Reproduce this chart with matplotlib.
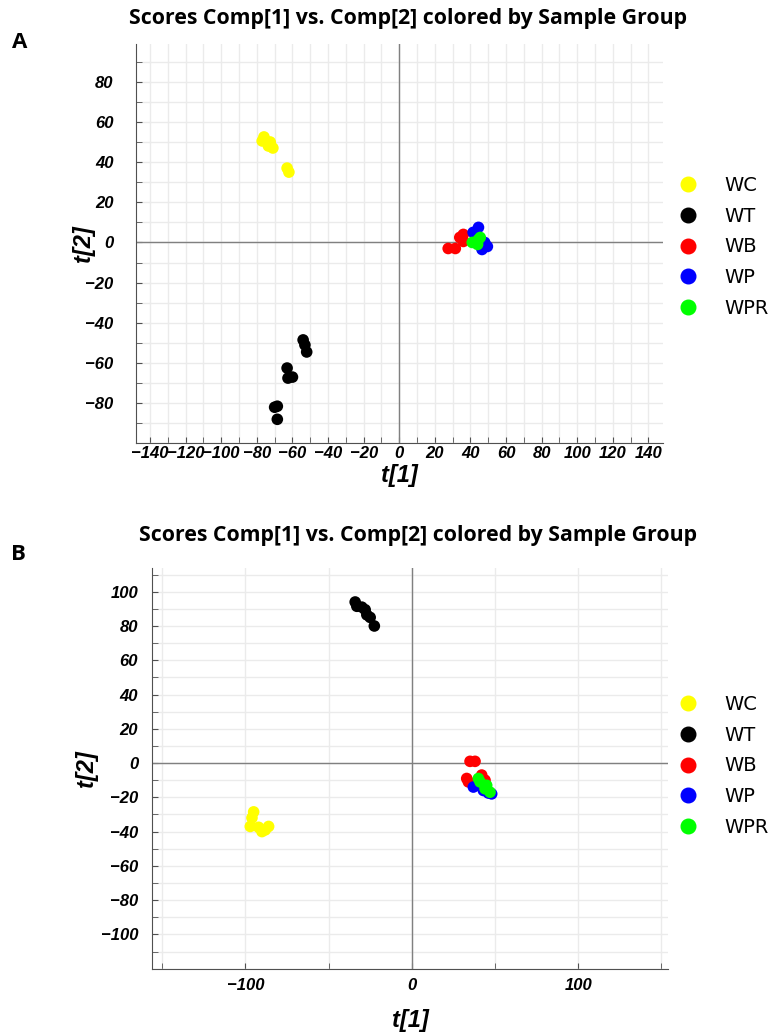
import matplotlib
matplotlib.use("Agg")
from matplotlib import pyplot as plt
from matplotlib.lines import Line2D
from matplotlib.font_manager import FontProperties
from matplotlib.ticker import MultipleLocator, FixedLocator

# ----- data, panel A
a_wc_x = [-76, -77, -72.5, -71, -73.5, -63, -62]
a_wc_y = [52.5, 50.5, 50, 47, 48, 37, 35]
a_wt_x = [-54, -53, -52, -63, -62.5, -60, -70, -68.5, -68.5]
a_wt_y = [-48.5, -51, -54.5, -62.5, -67.5, -67, -82, -81.5, -88]
a_wb_x = [27.5, 31.5, 36, 36, 34]
a_wb_y = [-3, -3, 4, 0.5, 2.5]
a_wp_x = [44.5, 41.5, 46.5, 49.5, 48]
a_wp_y = [7.5, 5, -3.5, -2, 0]
a_wpr_x = [41, 44.5, 45.5, 44, 42.5]
a_wpr_y = [0, 1.5, 2.5, -1, 0]

# ----- data, panel B
b_wc_x = [-95, -96, -97, -92, -90, -88, -86]
b_wc_y = [-28.5, -32, -37, -37.5, -40, -39, -37]
b_wt_x = [-34, -33, -30, -28, -27, -25, -22.5]
b_wt_y = [94, 91.5, 91, 89.5, 86.5, 85, 80]
b_wb_x = [35, 38, 33, 42, 44, 34]
b_wb_y = [1, 1, -9, -7, -10, -11]
b_wp_x = [37, 46, 40, 43, 48]
b_wp_y = [-14, -17.5, -13, -16, -18]
b_wpr_x = [41, 44, 47, 40, 45]
b_wpr_y = [-11, -15, -17, -9, -13]

groups = ["WC", "WT", "WB", "WP", "WPR"]
colors = ["#ffff00", "#000000", "#ff0000", "#0000ff", "#00ff00"]

title = "Scores Comp[1] vs. Comp[2] colored by Sample Group"
tickfont = FontProperties(family="Liberation Sans", weight="bold",
                          style="italic", size=12)
labfont = dict(fontsize=17, fontweight="bold", style="italic",
               family="Liberation Sans")

fig = plt.figure(figsize=(7.76, 10.36), dpi=100)


def draw_panel(ax, data, xlim, ylim):
    for (xs, ys), c in zip(data, colors):
        ax.scatter(xs, ys, s=70, color=c, edgecolors="none", zorder=3)
    ax.set_xlim(*xlim)
    ax.set_ylim(*ylim)
    ax.axhline(0, color="#808080", lw=1, zorder=2)
    ax.axvline(0, color="#808080", lw=1, zorder=2)
    for s in ["top", "right"]:
        ax.spines[s].set_visible(False)
    for s in ["left", "bottom"]:
        ax.spines[s].set_color("#505050")
    ax.grid(True, which="both", color="#ebebeb", lw=1, zorder=0)
    ax.set_axisbelow(True)
    ax.tick_params(which="both", direction="in", length=4, color="#505050")
    for lab in ax.get_xticklabels() + ax.get_yticklabels():
        lab.set_fontproperties(tickfont)
    ax.set_xlabel("t[1]", **labfont)
    ax.set_ylabel("t[2]", **labfont)


# ----- Panel A
axA = fig.add_axes([0.175, 0.572, 0.679, 0.386])
axA.xaxis.set_major_locator(MultipleLocator(20))
axA.xaxis.set_minor_locator(MultipleLocator(10))
axA.yaxis.set_major_locator(FixedLocator(list(range(-80, 81, 20))))
axA.yaxis.set_minor_locator(MultipleLocator(10))
draw_panel(axA, [(a_wc_x, a_wc_y), (a_wt_x, a_wt_y), (a_wb_x, a_wb_y),
                 (a_wp_x, a_wp_y), (a_wpr_x, a_wpr_y)],
           (-148, 148), (-100, 99))
axA.tick_params(axis="y", pad=16)
axA.tick_params(axis="x", pad=2)
axA.yaxis.set_label_coords(-0.078, 0.5)
axA.xaxis.set_label_coords(0.5, -0.052)

# ----- Panel B
axB = fig.add_axes([0.196, 0.065, 0.665, 0.387])
axB.xaxis.set_major_locator(FixedLocator([-100, 0, 100]))
axB.xaxis.set_minor_locator(FixedLocator([-150, -50, 50, 150]))
axB.yaxis.set_major_locator(FixedLocator(list(range(-100, 101, 20))))
axB.yaxis.set_minor_locator(MultipleLocator(10))
draw_panel(axB, [(b_wc_x, b_wc_y), (b_wt_x, b_wt_y), (b_wb_x, b_wb_y),
                 (b_wp_x, b_wp_y), (b_wpr_x, b_wpr_y)],
           (-156, 154), (-120, 114))
axB.tick_params(axis="y", pad=10)
axB.tick_params(axis="x", pad=7)
axB.yaxis.set_label_coords(-0.105, 0.5)
axB.xaxis.set_label_coords(0.5, -0.10)

# titles and panel letters
fig.text(0.526, 0.982, title, ha="center", va="center", fontsize=15.3,
         fontweight="bold", family="Open Sans")
fig.text(0.539, 0.483, title, ha="center", va="center", fontsize=15.3,
         fontweight="bold", family="Open Sans")
fig.text(0.026, 0.959, "A", ha="center", va="center", fontsize=16,
         fontweight="bold", family="Open Sans")
fig.text(0.024, 0.465, "B", ha="center", va="center", fontsize=16,
         fontweight="bold", family="Open Sans")

# legends
handles = [Line2D([], [], marker="o", ls="none", color=c, markersize=10.5)
           for c in colors]
for top in (0.830, 0.329):
    fig.legend(handles, groups, loc="upper left", bbox_to_anchor=(0.874, top),
               frameon=False, fontsize=14, labelspacing=0.6,
               handlelength=1.0, handletextpad=1.35, borderpad=0,
               borderaxespad=0)

plt.savefig("out.png", dpi=100)
